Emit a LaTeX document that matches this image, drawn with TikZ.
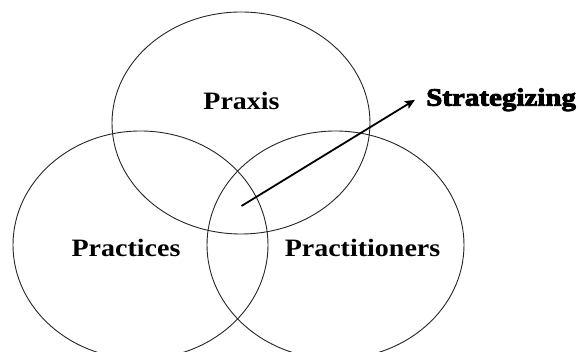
\documentclass[tikz,border=0pt]{standalone}
\usepackage{fontspec}
\setmainfont{Liberation Serif}[FakeStretch=1.12]
\newfontfamily\heavyserif{Liberation Serif Bold}[FakeBold=3.5, FakeStretch=1.16]
\usetikzlibrary{shapes.geometric,arrows.meta}
\begin{document}
\begin{tikzpicture}[x=1pt,y=-1pt,
  ring/.style={draw=black!85, line width=0.9pt, ellipse, inner sep=0pt, outer sep=0pt},
  lbl/.style={font=\fontsize{25}{30}\selectfont\bfseries, inner sep=0pt, anchor=base}]
  \useasboundingbox (0,0) rectangle (578,352);
  % the three overlapping sets
  \node[ring, minimum width=258pt, minimum height=222pt] (praxisring) at (241,123) {};
  \node[ring, minimum width=255pt, minimum height=228pt] (practicesring) at (140.5,245) {};
  \node[ring, minimum width=257pt, minimum height=228pt] (practitionersring) at (335.5,245) {};
  % labels
  \node[lbl] (praxis) at (241.5,110) {Praxis};
  \node[lbl] (practices) at (126,257) {Practices};
  \node[lbl] (practitioners) at (362.5,257) {Practitioners};
  \node[font=\fontsize{25}{30}\heavyserif, inner xsep=11pt, inner ysep=0pt, anchor=base west]
    (strat) at (415,105.7) {Strategizing};
  % arrow from the common core
  \coordinate (core) at (241.5,206);
  \draw[line width=1.8pt, -{Stealth[length=10pt,width=8.5pt,inset=2pt]}] (core) -- (strat.west);
\end{tikzpicture}
\end{document}
